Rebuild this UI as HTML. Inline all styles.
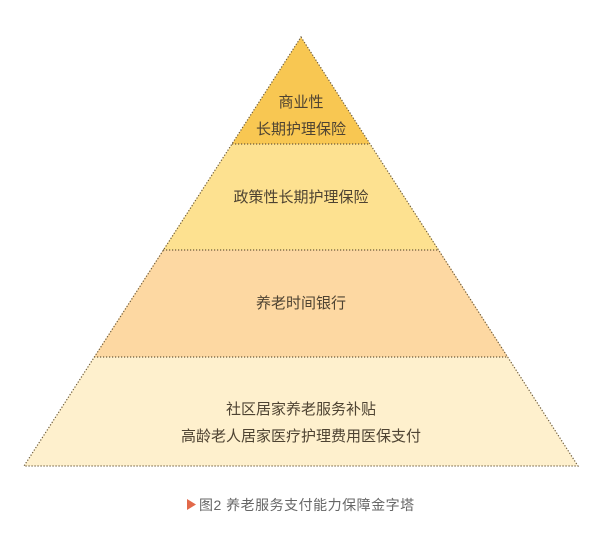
<!DOCTYPE html>
<html><head><meta charset="utf-8"><style>
body{margin:0;background:#fff;}
svg text{font-family:"Liberation Sans","Noto Sans CJK SC",sans-serif;}
</style></head><body>
<svg width="600" height="532" viewBox="0 0 600 532" xmlns="http://www.w3.org/2000/svg">
<polygon points="301,37 370,144 232,144" fill="#f8c752"/>
<polygon points="232,144 370,144 439,250 163,250" fill="#fde190"/>
<polygon points="163,250 439,250 508,357 94,357" fill="#fdd8a2"/>
<polygon points="94,357 508,357 578,466 24,466" fill="#fef0cd"/>
<g stroke="#6b5a3a" stroke-width="1.2" stroke-dasharray="1.2,1.8" fill="none">
<polygon points="301,37 578,466 24,466"/>
<line x1="232" y1="144" x2="370" y2="144"/>
<line x1="163" y1="250" x2="439" y2="250"/>
<line x1="94" y1="357" x2="508" y2="357"/>
</g>
<g fill="#4e4332" font-size="15" text-anchor="middle">
<text x="301" y="107">商业性</text>
<text x="301" y="134">长期护理保险</text>
<text x="301" y="202">政策性长期护理保险</text>
<text x="301" y="308">养老时间银行</text>
<text x="301" y="414">社区居家养老服务补贴</text>
<text x="301" y="441">高龄老人居家医疗护理费用医保支付</text>
</g>
<polygon points="187,499 196,504.5 187,510" fill="#e2694a"/>
<text x="199" y="510" font-size="14" letter-spacing="0.5" fill="#666">图2 养老服务支付能力保障金字塔</text>
</svg>
</body></html>
